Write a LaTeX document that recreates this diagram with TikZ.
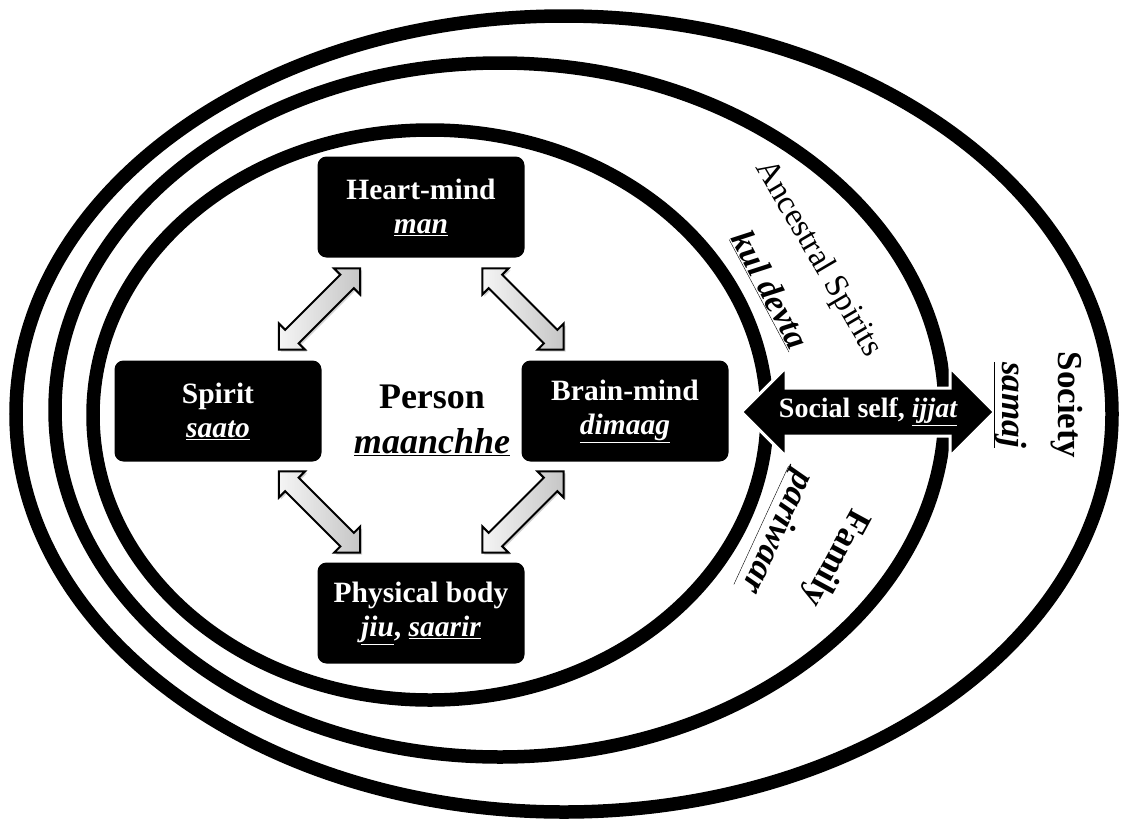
\documentclass[tikz,border=0pt]{standalone}
\usepackage{fontspec}
\setmainfont{Liberation Serif}
\usetikzlibrary{shapes.arrows,shadows,calc}
\begin{document}
\begin{tikzpicture}[x=1pt,y=-1pt,
  ring/.style={line width=13.5pt},
  box/.style={fill=black,rounded corners=9pt,minimum width=207pt,minimum height=101pt,text=white,align=center,font=\fontsize{29.5}{34}\selectfont\bfseries},
  link/.style={double arrow,draw=black,line width=2pt,left color=gray!8,right color=gray!45,minimum height=115pt,inner sep=8.5pt,double arrow head extend=9pt,drop shadow={opacity=0.35,shadow xshift=2pt,shadow yshift=-2pt}},
  social/.style={double arrow,fill=black,draw=white,line width=3pt,minimum height=253pt,inner xsep=0pt,inner ysep=22.5pt,double arrow head extend=20.5pt},
  lbl/.style={font=\fontsize{35}{40}\selectfont\bfseries}]
\useasboundingbox (0,0) rectangle (1123,822);
\draw[ring] (564,414) ellipse [x radius=548,y radius=398];\draw[ring] (500,410) ellipse [x radius=445,y radius=347];\draw[ring] (430,415) ellipse [x radius=337,y radius=285];
\node[box] (heart) at (421,207) {Heart-mind\\\textit{\underline{man}}};
\node[box] (spirit) at (218,411) {Spirit\\\textit{\underline{saato}}};
\node[box] (brain) at (625,411) {Brain-mind\\\textit{\underline{dimaag}}};
\node[box] (body) at (421,613) {Physical body\\\textit{\underline{jiu}}, \textit{\underline{saarir}}};
\node[align=center,font=\fontsize{36}{45}\selectfont\bfseries] (person) at (432,420) {Person\\\textit{\underline{maanchhe}}};
\node[link,rotate=45] (sh) at ($(spirit.north east)!.5!(heart.south west)$) {};\node[link,rotate=-45] (hb) at ($(heart.south east)!.5!(brain.north west)$) {};
\node[link,rotate=-45] (sb) at ($(spirit.south east)!.5!(body.north west)$) {};\node[link,rotate=45] (bb) at ($(brain.south west)!.5!(body.north east)$) {};
\node[social] (self) at (868,412) {};\node[text=white,font=\fontsize{28}{30}\selectfont\bfseries] (selftxt) at (self) {Social self, \textit{\underline{ijjat}}};
\node[font=\fontsize{33}{36}\selectfont,rotate=-59.6] (anc) at (818,259) {Ancestral Spirits};\node[lbl,font=\fontsize{34}{36}\selectfont\bfseries\itshape,rotate=-62] (kul) at (770,290) {\underline{kul devta}};
\node[lbl,rotate=-118.5] (fam) at (835,558) {Family};\node[lbl,font=\fontsize{35}{40}\selectfont\bfseries\itshape,rotate=-114.8] (pari) at (776,532) {\underline{pariwaar}};
\node[lbl,rotate=-90] (soc) at (1067,405) {Society};\node[lbl,font=\fontsize{35}{40}\selectfont\bfseries\itshape,rotate=-90] (samaj) at (1010,405) {\underline{samaj}};
\end{tikzpicture}
\end{document}
